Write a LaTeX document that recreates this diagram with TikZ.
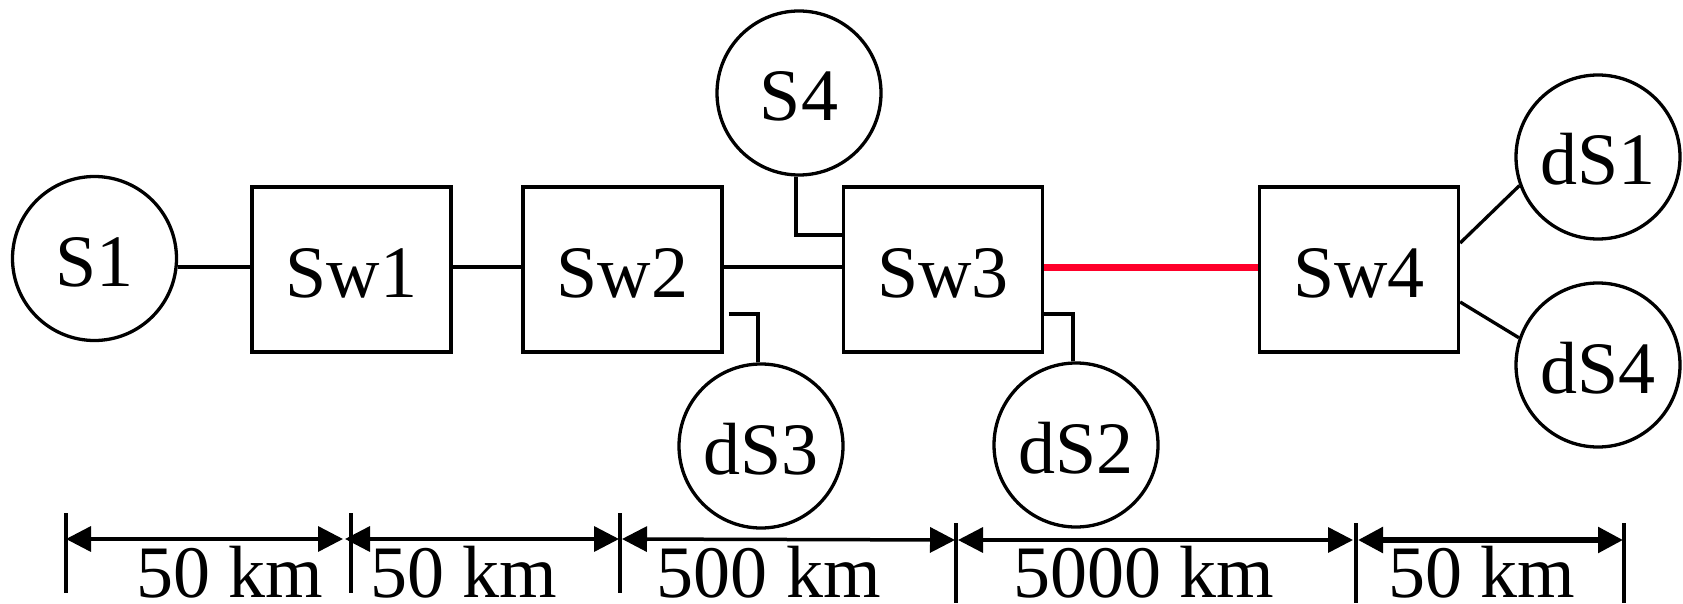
\documentclass[tikz,border=0pt]{standalone}
\usepackage{fontspec}
\setmainfont{Liberation Serif}
\usetikzlibrary{arrows.meta}
\definecolor{linkred}{RGB}{255,0,42}
\begin{document}
\begin{tikzpicture}[x=1pt,y=-1pt,
  lw/.style={line width=3.3pt},
  txt/.style={font=\fontsize{74}{80}\selectfont, text height=56pt, text depth=0pt, inner sep=0pt},
  hostnode/.style={txt, circle, draw, lw, minimum size=164pt},
  swnode/.style={txt, rectangle, draw, lw, minimum width=199pt, minimum height=165pt},
  wire/.style={lw},
  redwire/.style={line width=7pt, draw=linkred},
  tip/.style={Triangle[length=25pt,width=25pt,line width=0pt]},
  dimline/.style={line width=3.5pt, {Triangle[length=25pt,width=25pt]}-{Triangle[length=25pt,width=25pt]}},
  tickline/.style={line width=3.3pt},
  dimlabel/.style={font=\fontsize{74}{80}\selectfont, anchor=base, inner sep=0pt}
]
\useasboundingbox (0,0) rectangle (1683,604);

% nodes
\node[hostnode] (S1) at (94.5,258.5) {S1};
\node[swnode] (Sw1) at (351.5,269.5) {Sw1};
\node[swnode] (Sw2) at (622.5,269.5) {Sw2};
\node[swnode] (Sw3) at (943,269.5) {Sw3};
\node[swnode] (Sw4) at (1359,269.5) {Sw4};
\node[hostnode] (S4) at (799,93) {S4};
\node[hostnode] (dS3) at (761,446) {dS3};
\node[hostnode] (dS2) at (1076,445) {dS2};
\node[hostnode] (dS1) at (1598,157) {dS1};
\node[hostnode] (dS4) at (1598,365) {dS4};

% connectors
\draw[wire] ([yshift=-8.5pt]S1.east) -- ([yshift=2.5pt]Sw1.west);
\draw[wire] ([yshift=2.5pt]Sw1.east) -- ([yshift=2.5pt]Sw2.west);
\draw[wire] ([yshift=2.5pt]Sw2.east) -- ([yshift=2.5pt]Sw3.west);
\draw[redwire] ([yshift=2.5pt]Sw3.east) -- ([yshift=2.5pt]Sw4.west);
\draw[wire] ([xshift=-3pt]S4.south) |- ([yshift=34.5pt]Sw3.west);
\draw[wire] ([shift={(5pt,-44.5pt)}]Sw2.east) -| ([xshift=-3pt]dS3.north);
\draw[wire] ([yshift=-44.5pt]Sw3.east) -| ([xshift=-3pt]dS2.north);
\draw[wire] ([yshift=26.5pt]Sw4.east) -- (dS1.200);
\draw[wire] ([yshift=-32.5pt]Sw4.east) -- (dS4.161);

% dimension ticks
\coordinate (d0) at (66,539);
\coordinate (d1) at (351,539);
\coordinate (d2) at (620,539);
\coordinate (d3) at (956,540);
\coordinate (d4) at (1356,540);
\coordinate (d5) at (1624,540);
\foreach \d in {d0,d1,d2} \draw[tickline] (\d) ++(0,-26) -- ++(0,80);
\foreach \d in {d3,d4,d5} \draw[tickline] (\d) ++(0,-17) -- ++(0,80);

% dimension arrows
\draw[dimline] (d0) -- ([xshift=-8pt]d1);
\draw[dimline] ([xshift=-6pt]d1) -- ([xshift=-1pt]d2);
\draw[dimline] ([xshift=2pt]d2) -- ([xshift=-1pt]d3);
\draw[dimline] ([xshift=2pt]d3) -- ([xshift=-3pt]d4);
\draw[dimline, line width=5.5pt] ([xshift=2pt]d4) -- ([xshift=-1pt]d5);

% dimension labels
\node[dimlabel] (l1) at (230,597) {50 km};
\node[dimlabel] (l2) at (464,597) {50 km};
\node[dimlabel] (l3) at (769,597) {500 km};
\node[dimlabel] (l4) at (1144,597) {5000 km};
\node[dimlabel] (l5) at (1482,597) {50 km};
\end{tikzpicture}
\end{document}
